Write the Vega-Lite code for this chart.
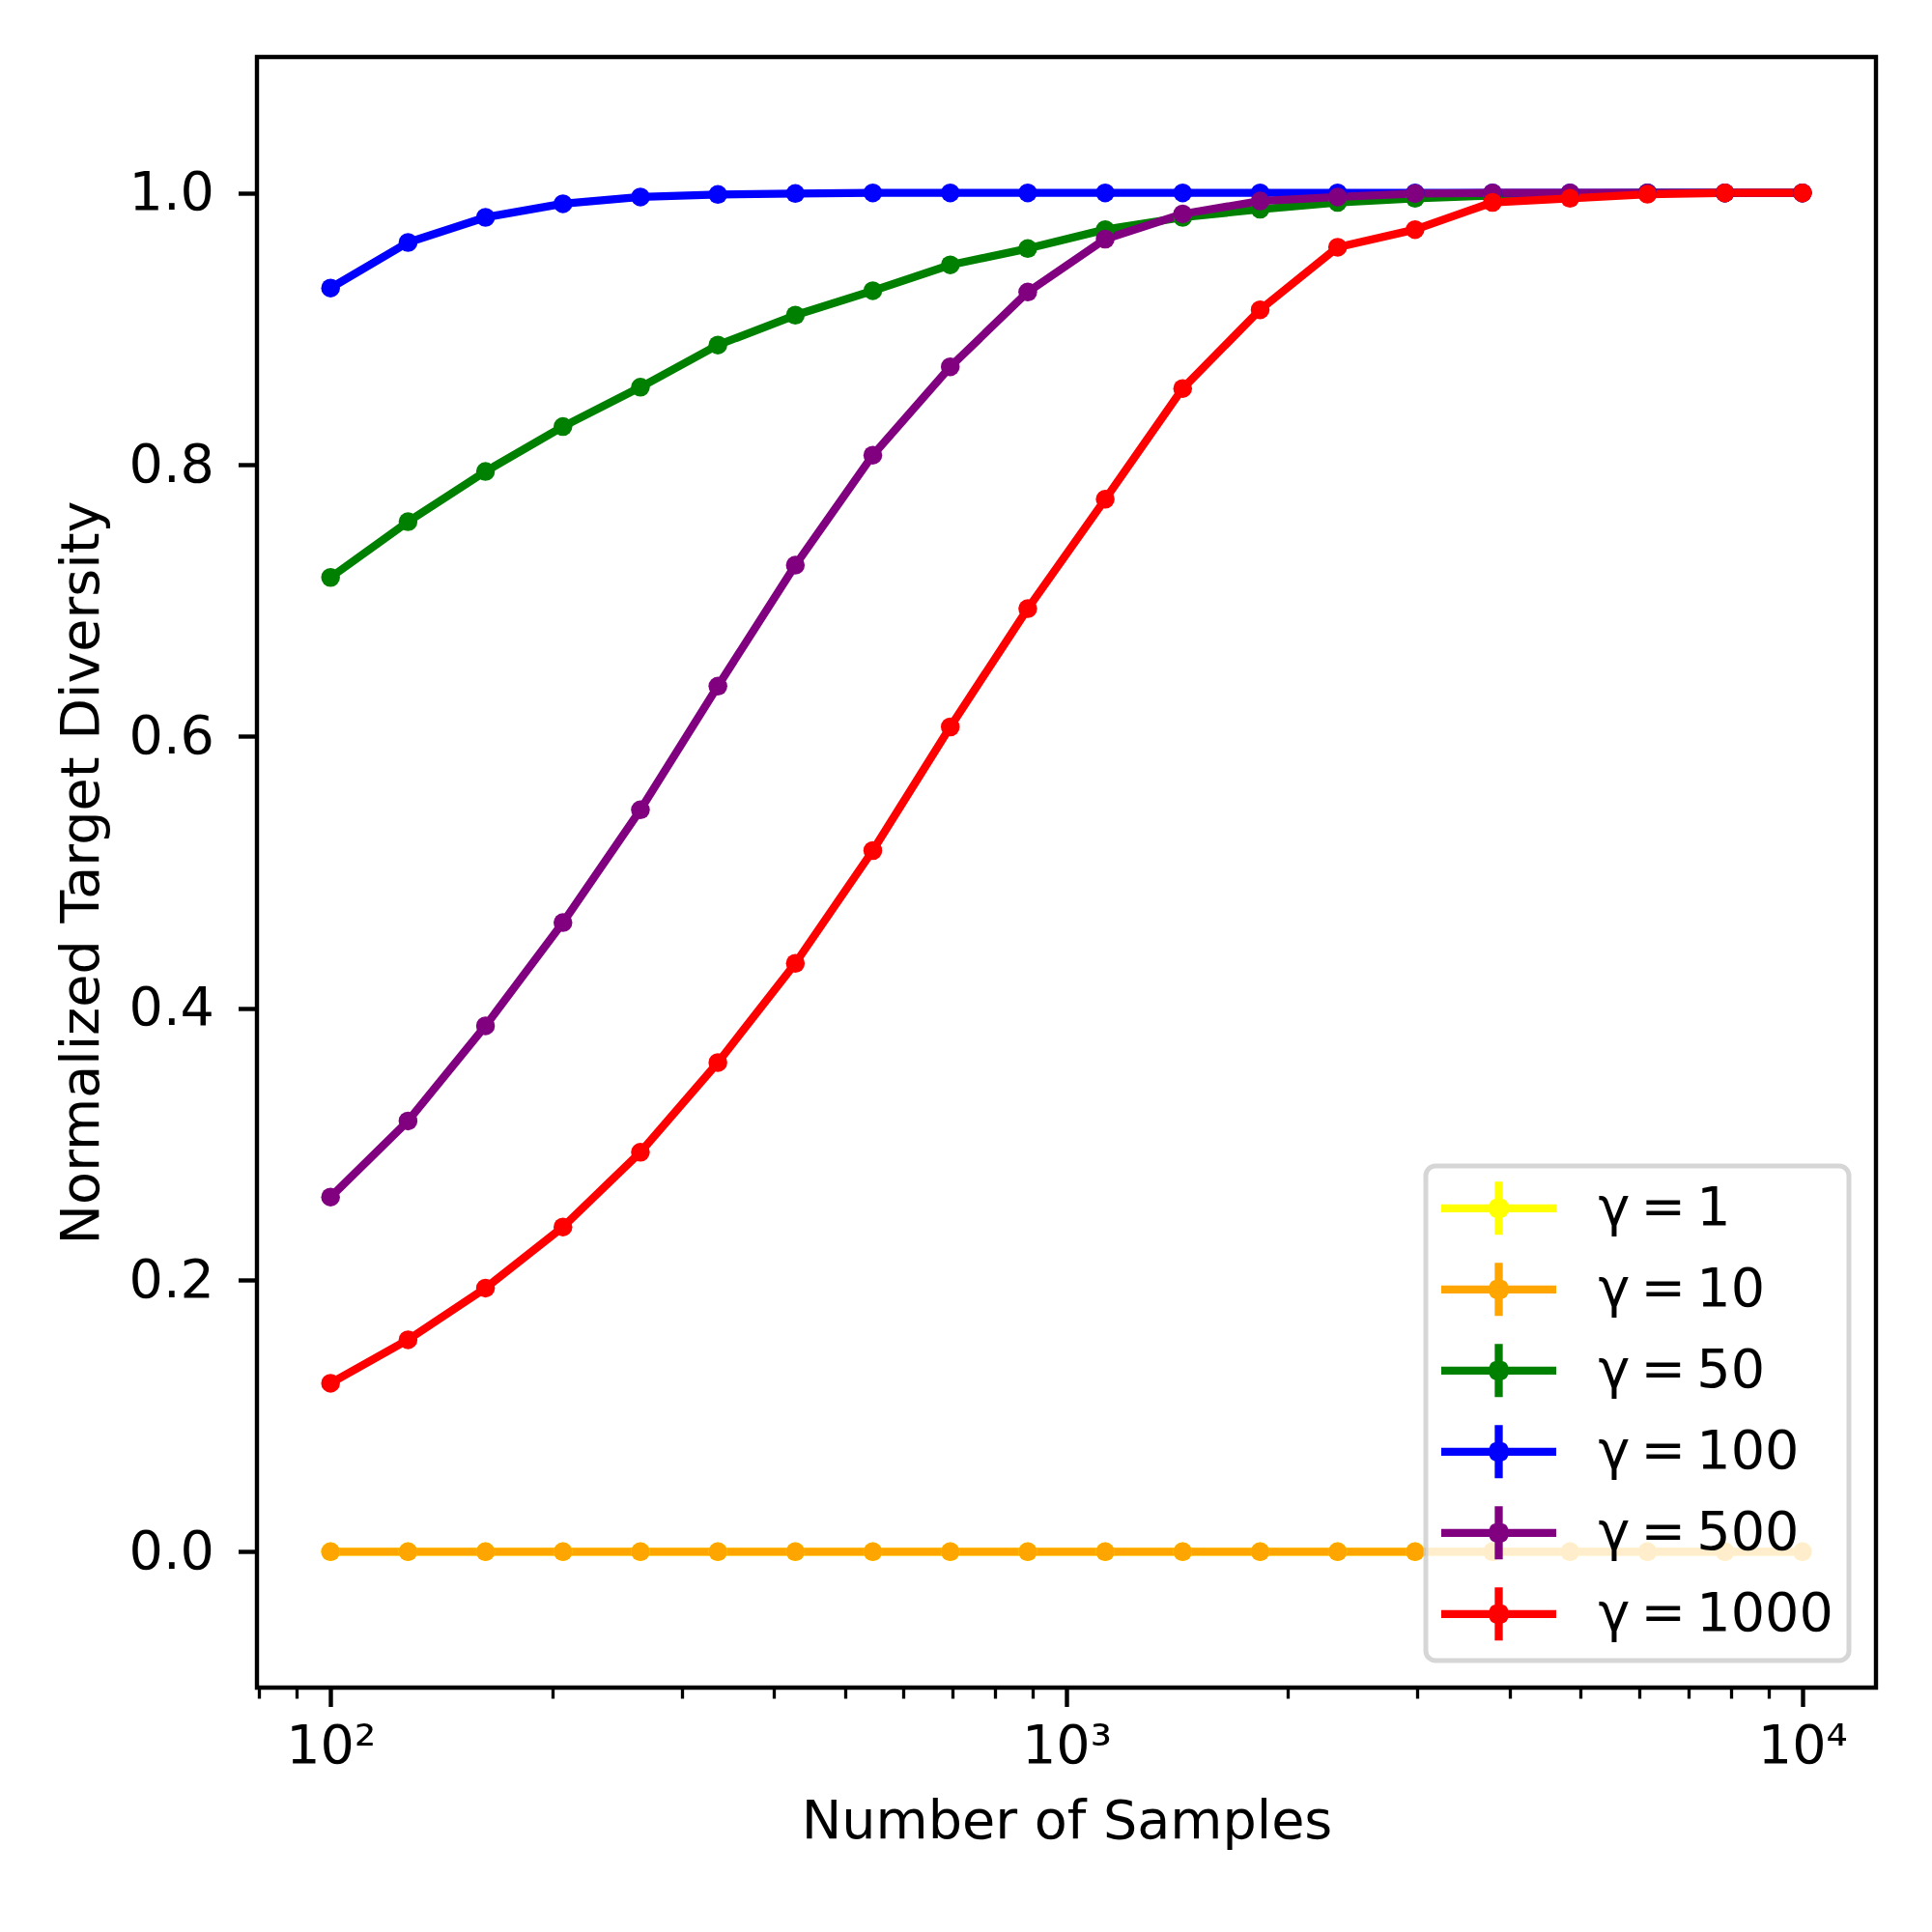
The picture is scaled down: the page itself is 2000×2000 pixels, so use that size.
{
  "$schema": "https://vega.github.io/schema/vega-lite/v6.json",
  "width": 1676,
  "height": 1688,
  "padding": {"left": 57, "top": 59, "right": 10, "bottom": 10},
  "background": "white",
  "data": {
    "values": [
      {"n": 100, "gamma": "γ\u2009=\u20091", "d": 0}, {"n": 127.43, "gamma": "γ\u2009=\u20091", "d": 0}, {"n": 162.38, "gamma": "γ\u2009=\u20091", "d": 0}, {"n": 206.91, "gamma": "γ\u2009=\u20091", "d": 0},
      {"n": 263.67, "gamma": "γ\u2009=\u20091", "d": 0}, {"n": 335.98, "gamma": "γ\u2009=\u20091", "d": 0}, {"n": 428.13, "gamma": "γ\u2009=\u20091", "d": 0}, {"n": 545.56, "gamma": "γ\u2009=\u20091", "d": 0},
      {"n": 695.19, "gamma": "γ\u2009=\u20091", "d": 0}, {"n": 885.87, "gamma": "γ\u2009=\u20091", "d": 0}, {"n": 1128.84, "gamma": "γ\u2009=\u20091", "d": 0}, {"n": 1438.45, "gamma": "γ\u2009=\u20091", "d": 0},
      {"n": 1832.98, "gamma": "γ\u2009=\u20091", "d": 0}, {"n": 2335.72, "gamma": "γ\u2009=\u20091", "d": 0}, {"n": 2976.35, "gamma": "γ\u2009=\u20091", "d": 0}, {"n": 3792.69, "gamma": "γ\u2009=\u20091", "d": 0},
      {"n": 4832.93, "gamma": "γ\u2009=\u20091", "d": 0}, {"n": 6158.48, "gamma": "γ\u2009=\u20091", "d": 0}, {"n": 7847.6, "gamma": "γ\u2009=\u20091", "d": 0}, {"n": 10000, "gamma": "γ\u2009=\u20091", "d": 0},

      {"n": 100, "gamma": "γ\u2009=\u200910", "d": 0}, {"n": 127.43, "gamma": "γ\u2009=\u200910", "d": 0}, {"n": 162.38, "gamma": "γ\u2009=\u200910", "d": 0}, {"n": 206.91, "gamma": "γ\u2009=\u200910", "d": 0},
      {"n": 263.67, "gamma": "γ\u2009=\u200910", "d": 0}, {"n": 335.98, "gamma": "γ\u2009=\u200910", "d": 0}, {"n": 428.13, "gamma": "γ\u2009=\u200910", "d": 0}, {"n": 545.56, "gamma": "γ\u2009=\u200910", "d": 0},
      {"n": 695.19, "gamma": "γ\u2009=\u200910", "d": 0}, {"n": 885.87, "gamma": "γ\u2009=\u200910", "d": 0}, {"n": 1128.84, "gamma": "γ\u2009=\u200910", "d": 0}, {"n": 1438.45, "gamma": "γ\u2009=\u200910", "d": 0},
      {"n": 1832.98, "gamma": "γ\u2009=\u200910", "d": 0}, {"n": 2335.72, "gamma": "γ\u2009=\u200910", "d": 0}, {"n": 2976.35, "gamma": "γ\u2009=\u200910", "d": 0}, {"n": 3792.69, "gamma": "γ\u2009=\u200910", "d": 0},
      {"n": 4832.93, "gamma": "γ\u2009=\u200910", "d": 0}, {"n": 6158.48, "gamma": "γ\u2009=\u200910", "d": 0}, {"n": 7847.6, "gamma": "γ\u2009=\u200910", "d": 0}, {"n": 10000, "gamma": "γ\u2009=\u200910", "d": 0},

      {"n": 100, "gamma": "γ\u2009=\u200950", "d": 0.717}, {"n": 127.43, "gamma": "γ\u2009=\u200950", "d": 0.758}, {"n": 162.38, "gamma": "γ\u2009=\u200950", "d": 0.795}, {"n": 206.91, "gamma": "γ\u2009=\u200950", "d": 0.828},
      {"n": 263.67, "gamma": "γ\u2009=\u200950", "d": 0.857}, {"n": 335.98, "gamma": "γ\u2009=\u200950", "d": 0.888}, {"n": 428.13, "gamma": "γ\u2009=\u200950", "d": 0.910}, {"n": 545.56, "gamma": "γ\u2009=\u200950", "d": 0.928},
      {"n": 695.19, "gamma": "γ\u2009=\u200950", "d": 0.947}, {"n": 885.87, "gamma": "γ\u2009=\u200950", "d": 0.959}, {"n": 1128.84, "gamma": "γ\u2009=\u200950", "d": 0.973}, {"n": 1438.45, "gamma": "γ\u2009=\u200950", "d": 0.982},
      {"n": 1832.98, "gamma": "γ\u2009=\u200950", "d": 0.988}, {"n": 2335.72, "gamma": "γ\u2009=\u200950", "d": 0.993}, {"n": 2976.35, "gamma": "γ\u2009=\u200950", "d": 0.996}, {"n": 3792.69, "gamma": "γ\u2009=\u200950", "d": 0.998},
      {"n": 4832.93, "gamma": "γ\u2009=\u200950", "d": 0.9995}, {"n": 6158.48, "gamma": "γ\u2009=\u200950", "d": 1}, {"n": 7847.6, "gamma": "γ\u2009=\u200950", "d": 1}, {"n": 10000, "gamma": "γ\u2009=\u200950", "d": 1},

      {"n": 100, "gamma": "γ\u2009=\u2009100", "d": 0.930}, {"n": 127.43, "gamma": "γ\u2009=\u2009100", "d": 0.9635}, {"n": 162.38, "gamma": "γ\u2009=\u2009100", "d": 0.982}, {"n": 206.91, "gamma": "γ\u2009=\u2009100", "d": 0.992},
      {"n": 263.67, "gamma": "γ\u2009=\u2009100", "d": 0.997}, {"n": 335.98, "gamma": "γ\u2009=\u2009100", "d": 0.9988}, {"n": 428.13, "gamma": "γ\u2009=\u2009100", "d": 0.9995}, {"n": 545.56, "gamma": "γ\u2009=\u2009100", "d": 1},
      {"n": 695.19, "gamma": "γ\u2009=\u2009100", "d": 1}, {"n": 885.87, "gamma": "γ\u2009=\u2009100", "d": 1}, {"n": 1128.84, "gamma": "γ\u2009=\u2009100", "d": 1}, {"n": 1438.45, "gamma": "γ\u2009=\u2009100", "d": 1},
      {"n": 1832.98, "gamma": "γ\u2009=\u2009100", "d": 1}, {"n": 2335.72, "gamma": "γ\u2009=\u2009100", "d": 1}, {"n": 2976.35, "gamma": "γ\u2009=\u2009100", "d": 1}, {"n": 3792.69, "gamma": "γ\u2009=\u2009100", "d": 1},
      {"n": 4832.93, "gamma": "γ\u2009=\u2009100", "d": 1}, {"n": 6158.48, "gamma": "γ\u2009=\u2009100", "d": 1}, {"n": 7847.6, "gamma": "γ\u2009=\u2009100", "d": 1}, {"n": 10000, "gamma": "γ\u2009=\u2009100", "d": 1},

      {"n": 100, "gamma": "γ\u2009=\u2009500", "d": 0.261}, {"n": 127.43, "gamma": "γ\u2009=\u2009500", "d": 0.317}, {"n": 162.38, "gamma": "γ\u2009=\u2009500", "d": 0.387}, {"n": 206.91, "gamma": "γ\u2009=\u2009500", "d": 0.463},
      {"n": 263.67, "gamma": "γ\u2009=\u2009500", "d": 0.546}, {"n": 335.98, "gamma": "γ\u2009=\u2009500", "d": 0.637}, {"n": 428.13, "gamma": "γ\u2009=\u2009500", "d": 0.726}, {"n": 545.56, "gamma": "γ\u2009=\u2009500", "d": 0.807},
      {"n": 695.19, "gamma": "γ\u2009=\u2009500", "d": 0.872}, {"n": 885.87, "gamma": "γ\u2009=\u2009500", "d": 0.927}, {"n": 1128.84, "gamma": "γ\u2009=\u2009500", "d": 0.966}, {"n": 1438.45, "gamma": "γ\u2009=\u2009500", "d": 0.9845},
      {"n": 1832.98, "gamma": "γ\u2009=\u2009500", "d": 0.994}, {"n": 2335.72, "gamma": "γ\u2009=\u2009500", "d": 0.997}, {"n": 2976.35, "gamma": "γ\u2009=\u2009500", "d": 0.9995}, {"n": 3792.69, "gamma": "γ\u2009=\u2009500", "d": 1},
      {"n": 4832.93, "gamma": "γ\u2009=\u2009500", "d": 1}, {"n": 6158.48, "gamma": "γ\u2009=\u2009500", "d": 1}, {"n": 7847.6, "gamma": "γ\u2009=\u2009500", "d": 1}, {"n": 10000, "gamma": "γ\u2009=\u2009500", "d": 1},

      {"n": 100, "gamma": "γ\u2009=\u20091000", "d": 0.124}, {"n": 127.43, "gamma": "γ\u2009=\u20091000", "d": 0.156}, {"n": 162.38, "gamma": "γ\u2009=\u20091000", "d": 0.194}, {"n": 206.91, "gamma": "γ\u2009=\u20091000", "d": 0.239},
      {"n": 263.67, "gamma": "γ\u2009=\u20091000", "d": 0.294}, {"n": 335.98, "gamma": "γ\u2009=\u20091000", "d": 0.360}, {"n": 428.13, "gamma": "γ\u2009=\u20091000", "d": 0.433}, {"n": 545.56, "gamma": "γ\u2009=\u20091000", "d": 0.516},
      {"n": 695.19, "gamma": "γ\u2009=\u20091000", "d": 0.607}, {"n": 885.87, "gamma": "γ\u2009=\u20091000", "d": 0.694}, {"n": 1128.84, "gamma": "γ\u2009=\u20091000", "d": 0.7745}, {"n": 1438.45, "gamma": "γ\u2009=\u20091000", "d": 0.856},
      {"n": 1832.98, "gamma": "γ\u2009=\u20091000", "d": 0.914}, {"n": 2335.72, "gamma": "γ\u2009=\u20091000", "d": 0.960}, {"n": 2976.35, "gamma": "γ\u2009=\u20091000", "d": 0.973}, {"n": 3792.69, "gamma": "γ\u2009=\u20091000", "d": 0.993},
      {"n": 4832.93, "gamma": "γ\u2009=\u20091000", "d": 0.996}, {"n": 6158.48, "gamma": "γ\u2009=\u20091000", "d": 0.999}, {"n": 7847.6, "gamma": "γ\u2009=\u20091000", "d": 1}, {"n": 10000, "gamma": "γ\u2009=\u20091000", "d": 1}
    ]
  },
  "encoding": {
    "y": {
      "field": "d",
      "type": "quantitative",
      "scale": {"domain": [-0.1, 1.1], "nice": false, "zero": false},
      "axis": {
        "title": "Normalized Target Diversity",
        "values": [0, 0.2, 0.4, 0.6, 0.8, 1.0],
        "format": ".1f",
        "grid": false,
        "domain": false,
        "tickSize": 19.5,
        "tickWidth": 4.4,
        "tickColor": "black",
        "labelPadding": 25,
        "titlePadding": 20
      }
    },
    "color": {
      "field": "gamma",
      "type": "nominal",
      "scale": {
        "domain": ["γ\u2009=\u20091", "γ\u2009=\u200910", "γ\u2009=\u200950", "γ\u2009=\u2009100", "γ\u2009=\u2009500", "γ\u2009=\u20091000"],
        "range": ["#ffff00", "#ffa500", "#008000", "#0000ff", "#800080", "#ff0000"]
      },
      "legend": {
        "orient": "bottom-right",
        "offset": 28,
        "title": null,
        "padding": 16,
        "rowPadding": 20,
        "labelOffset": 107,
        "labelLimit": 600,
        "labelFontSize": 55.6,
        "labelColor": "black",
        "fillColor": "rgba(255,255,255,0.8)",
        "strokeColor": "rgba(204,204,204,0.8)",
        "cornerRadius": 10,
        "symbolType": "M-1.39,0H4.56M1.585,-1.375V1.375M1.935,0L1.832,0.247L1.585,0.35L1.338,0.247L1.235,0L1.338,-0.247L1.585,-0.35L1.832,-0.247Z",
        "symbolSize": 1600,
        "symbolStrokeWidth": 8.3,
        "encode": {
          "symbols": {
            "update": {
              "fill": {"scale": "color", "field": "value"},
              "stroke": {"scale": "color", "field": "value"},
              "strokeWidth": {"value": 8.3},
              "strokeJoin": {"value": "round"},
              "size": {"value": 1600},
              "shape": {"value": "M-1.39,0H4.56M1.585,-1.375V1.375M1.935,0L1.832,0.247L1.585,0.35L1.338,0.247L1.235,0L1.338,-0.247L1.585,-0.35L1.832,-0.247Z"},
              "opacity": {"value": 1}
            }
          }
        }
      }
    }
  },
  "layer": [
    {
      "mark": {"type": "line", "strokeWidth": 8.3, "strokeCap": "butt", "strokeJoin": "round"},
      "encoding": {
        "x": {
          "field": "n",
          "type": "quantitative",
          "scale": {"type": "log", "domain": [79.43, 12589], "nice": false},
          "axis": {
            "orient": "bottom",
            "title": "Number of Samples",
            "values": [100, 1000, 10000],
            "labelExpr": "datum.value == 100 ? '10²' : datum.value == 1000 ? '10³' : '10⁴'",
            "grid": false,
            "domain": false,
            "tickSize": 19.5,
            "tickWidth": 4.4,
            "tickColor": "black",
            "labelPadding": 14,
            "labelFlush": false,
            "labelOverlap": false,
            "titlePadding": 22
          }
        }
      }
    },
    {
      "mark": {"type": "point", "filled": true, "size": 380, "opacity": 1, "strokeWidth": 0},
      "encoding": {
        "x": {
          "field": "n",
          "type": "quantitative",
          "scale": {"type": "log", "domain": [79.43, 12589], "nice": false},
          "axis": {
            "orient": "bottom",
            "title": null,
            "values": [80, 90, 200, 300, 400, 500, 600, 700, 800, 900, 2000, 3000, 4000, 5000, 6000, 7000, 8000, 9000],
            "labels": false,
            "grid": false,
            "domain": false,
            "tickSize": 11,
            "tickWidth": 3.3,
            "tickColor": "black"
          }
        }
      }
    }
  ],
  "resolve": {"axis": {"x": "independent"}},
  "config": {
    "font": "DejaVu Sans",
    "view": {"stroke": "black", "strokeWidth": 4.4},
    "axis": {
      "labelFont": "DejaVu Sans",
      "titleFont": "DejaVu Sans",
      "labelFontSize": 55.6,
      "titleFontSize": 55.6,
      "titleFontWeight": "normal",
      "labelColor": "black",
      "titleColor": "black"
    },
    "legend": {"labelFont": "DejaVu Sans", "strokeWidth": 5}
  }
}
